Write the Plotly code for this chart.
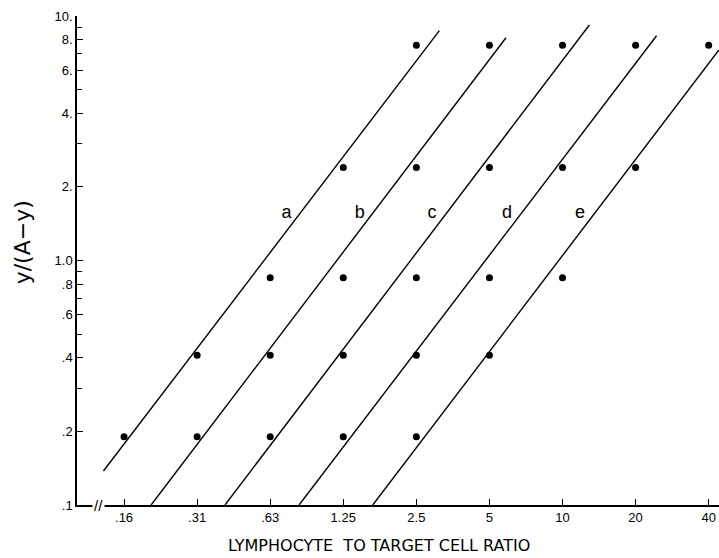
import plotly.graph_objects as go

# ---- data ----
ratios = [0.15625, 0.3125, 0.625, 1.25, 2.5, 5, 10, 20, 40]
ratio_labels = [".16", ".31", ".63", "1.25", "2.5", "5", "10", "20", "40"]

y_ticks = [0.1, 0.2, 0.4, 0.6, 0.8, 1, 2, 4, 6, 8, 10]
y_tick_labels = [".1", ".2", ".4", ".6", ".8", "1.0", "2.", "4.", "6.", "8.", "10."]
y_minor = [0.3, 0.5, 0.7, 0.9, 3, 5, 7, 9]

series_names = ["a", "b", "c", "d", "e"]

a_x = [0.15625, 0.3125, 0.625, 1.25, 2.5]
a_y = [0.19, 0.41, 0.85, 2.4, 7.6]
b_x = [0.3125, 0.625, 1.25, 2.5, 5]
b_y = [0.19, 0.41, 0.85, 2.4, 7.6]
c_x = [0.625, 1.25, 2.5, 5, 10]
c_y = [0.19, 0.41, 0.85, 2.4, 7.6]
d_x = [1.25, 2.5, 5, 10, 20]
d_y = [0.19, 0.41, 0.85, 2.4, 7.6]
e_x = [2.5, 5, 10, 20, 40]
e_y = [0.19, 0.41, 0.85, 2.4, 7.6]

# fitted lines (end points)
a_fit_x = [0.1285, 3.11]
a_fit_y = [0.1377, 8.71]
b_fit_x = [0.202, 5.85]
b_fit_y = [0.1, 8.15]
c_fit_x = [0.407, 12.9]
c_fit_y = [0.1, 9.19]
d_fit_x = [0.822, 24.4]
d_fit_y = [0.1, 8.3]
e_fit_x = [1.653, 44.0]
e_fit_y = [0.1, 7.25]

label_x = [0.73, 1.46, 2.9, 5.9, 11.8]
label_y = [1.56, 1.56, 1.56, 1.56, 1.56]

points = [(a_x, a_y), (b_x, b_y), (c_x, c_y), (d_x, d_y), (e_x, e_y)]
fits = [(a_fit_x, a_fit_y), (b_fit_x, b_fit_y), (c_fit_x, c_fit_y),
        (d_fit_x, d_fit_y), (e_fit_x, e_fit_y)]

fig = go.Figure()
for name, (fx, fy) in zip(series_names, fits):
    fig.add_trace(go.Scatter(x=fx, y=fy, mode="lines", name=name,
                             line=dict(color="black", width=1.4),
                             showlegend=False))
for name, (px, py) in zip(series_names, points):
    fig.add_trace(go.Scatter(x=px, y=py, mode="markers", name=name,
                             marker=dict(color="black", size=7),
                             showlegend=False))

fig.add_trace(go.Scatter(x=label_x, y=label_y, mode="text", text=series_names,
                         textfont=dict(family="Liberation Sans", size=18, color="black"),
                         showlegend=False))

fig.update_layout(
    width=719, height=558,
    margin=dict(l=77, r=0, t=16, b=53),
    paper_bgcolor="white", plot_bgcolor="white",
    font=dict(family="Liberation Sans", color="black", size=13),
    xaxis=dict(type="log", range=[-1.0, 1.6446],
               tickvals=ratios, ticktext=ratio_labels,
               ticks="inside", ticklen=6, tickwidth=1.2, tickcolor="black",
               showline=True, linecolor="black", linewidth=1.5,
               showgrid=False, zeroline=False,
               tickfont=dict(size=13)),
    yaxis=dict(type="log", range=[-1.0, 1.0],
               tickvals=y_ticks, ticktext=y_tick_labels,
               ticks="inside", ticklen=6, tickwidth=1.2, tickcolor="black",
               minor=dict(tickvals=y_minor, ticks="inside", ticklen=5,
                          tickwidth=1.2, tickcolor="black", showgrid=False),
               showline=True, linecolor="black", linewidth=1.5,
               showgrid=False, zeroline=False,
               tickfont=dict(size=13)),
)

fig.add_annotation(xref="paper", yref="paper", x=-0.085, y=0.538,
                   xanchor="center", yanchor="middle",
                   text="y/(A\u2212y)", textangle=-90, showarrow=False,
                   font=dict(family="DejaVu Sans", size=22, color="black"))
fig.add_annotation(xref="paper", yref="paper", x=0.47, y=-0.082,
                   xanchor="center", yanchor="middle",
                   text="LYMPHOCYTE  TO TARGET CELL RATIO", showarrow=False,
                   font=dict(family="DejaVu Sans", size=16, color="black"))
fig.add_annotation(xref="paper", yref="paper", x=0.033, y=0.0,
                   xanchor="center", yanchor="middle",
                   text="//", showarrow=False, bgcolor="white",
                   font=dict(family="Liberation Sans", size=15, color="black"))

fig.write_html("out.html", config={"displayModeBar": False},
               post_script="document.body.style.margin='0px';")
